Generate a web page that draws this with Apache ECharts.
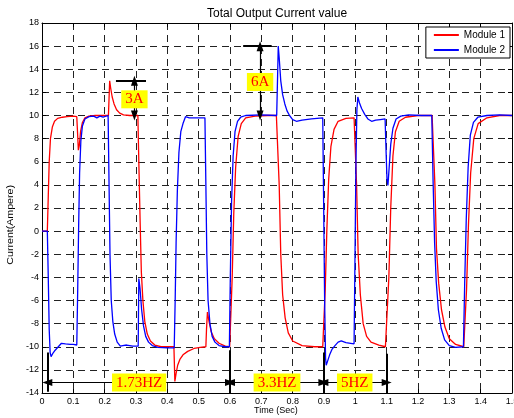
<!DOCTYPE html>
<html>
<head>
<meta charset="utf-8">
<script src="https://cdn.jsdelivr.net/npm/echarts@6/dist/echarts.min.js"></script>
<style>html,body{margin:0;padding:0;background:#fff}#c{width:514px;height:418px}</style>
</head>
<body>
<div id="c"></div>
<script>
// ---- data ----
const titleText = 'Total Output Current value';
const xAxisTitle = 'Time (Sec)';
const yAxisTitle = 'Current(Ampere)';
const xTicks = [0,0.1,0.2,0.3,0.4,0.5,0.6,0.7,0.8,0.9,1,1.1,1.2,1.3,1.4,1.5];
const yTicks = [-14,-12,-10,-8,-6,-4,-2,0,2,4,6,8,10,12,14,16,18];

const module1Time = [0,0.017,0.020,0.023,0.027,0.033,0.040,0.050,0.065,0.080,0.100,0.111,0.114,0.116,0.119,0.123,0.129,0.137,0.150,0.170,0.190,0.212,0.214,0.216,0.219,0.224,0.230,0.238,0.248,0.260,0.280,0.306,0.309,0.313,0.317,0.322,0.328,0.336,0.346,0.360,0.380,0.400,0.421,0.424,0.428,0.433,0.440,0.450,0.465,0.485,0.505,0.523,0.525,0.528,0.533,0.540,0.550,0.565,0.585,0.599,0.603,0.607,0.612,0.618,0.626,0.636,0.650,0.680,0.720,0.748,0.752,0.757,0.762,0.768,0.776,0.786,0.800,0.830,0.870,0.896,0.900,0.904,0.909,0.915,0.922,0.932,0.945,0.970,0.996,1.000,1.004,1.009,1.016,1.025,1.036,1.050,1.075,1.096,1.101,1.107,1.113,1.120,1.128,1.140,1.160,1.200,1.245,1.249,1.254,1.259,1.266,1.275,1.286,1.300,1.320,1.346,1.350,1.355,1.361,1.368,1.378,1.392,1.420,1.460,1.500];
const module1Current = [0,0,3,6,8,9.0,9.5,9.75,9.85,9.9,9.95,9.9,8.2,7.0,7.4,8.6,9.4,9.8,9.95,10,10,10,11.5,13.0,12.4,11.6,11.0,10.5,10.2,10.05,10,10,6,1,-3.5,-6,-7.8,-8.9,-9.5,-9.85,-10,-10,-10,-13,-12.3,-11.6,-11.1,-10.7,-10.4,-10.15,-10.05,-10,-8.5,-7.0,-7.8,-8.7,-9.3,-9.7,-9.95,-10,-10,-4,1.5,5.5,8.2,9.3,9.8,9.95,10,10,10,4,-2,-5.5,-7.5,-8.8,-9.5,-9.9,-10,-10,-10,-5,0,4.5,7.3,8.8,9.5,9.75,9.8,9.85,4,-2,-5.5,-8.0,-9.1,-9.6,-9.85,-10,-10,-4,2,6.5,8.6,9.5,9.85,10,10,10,4,-1.5,-4.5,-6.8,-8.3,-9.3,-9.8,-10,-10,-5,0.5,5,8,9.3,9.8,10,10,10];

const module2Time = [0,0.017,0.020,0.023,0.026,0.029,0.034,0.042,0.052,0.062,0.068,0.075,0.090,0.100,0.111,0.114,0.117,0.120,0.124,0.129,0.137,0.150,0.165,0.175,0.185,0.195,0.211,0.214,0.217,0.221,0.226,0.232,0.240,0.250,0.258,0.270,0.290,0.307,0.309,0.313,0.318,0.324,0.331,0.340,0.352,0.370,0.400,0.422,0.425,0.428,0.432,0.437,0.443,0.450,0.458,0.463,0.470,0.490,0.520,0.523,0.526,0.530,0.536,0.543,0.552,0.565,0.585,0.598,0.601,0.605,0.610,0.616,0.624,0.634,0.650,0.700,0.749,0.752,0.754,0.757,0.762,0.768,0.775,0.782,0.790,0.800,0.812,0.830,0.860,0.896,0.899,0.902,0.905,0.907,0.912,0.918,0.926,0.935,0.945,0.955,0.970,0.985,0.996,0.999,1.002,1.005,1.008,1.013,1.020,1.030,1.040,1.052,1.065,1.080,1.095,1.098,1.101,1.104,1.108,1.113,1.120,1.130,1.145,1.170,1.210,1.244,1.248,1.253,1.258,1.265,1.274,1.285,1.300,1.320,1.345,1.349,1.354,1.360,1.367,1.377,1.391,1.420,1.460,1.500];
const module2Current = [0,0,-4,-8.5,-10.5,-10.85,-10.6,-10.3,-10.0,-9.7,-9.6,-9.75,-9.8,-9.8,-9.85,-5,0.5,5,7.8,9.1,9.7,9.9,9.95,9.8,9.95,9.85,10,4,-2,-6,-7.8,-8.9,-9.6,-9.95,-9.9,-9.85,-9.95,-9.95,-4.1,-5.0,-6.8,-8.2,-9.1,-9.6,-9.9,-10.05,-10.1,-10.1,-6,-1,3.5,6.8,8.6,9.3,9.9,10.05,9.8,9.8,9.8,4,-2,-6,-8,-9.1,-9.6,-9.9,-10,-10,-4,2.5,6.5,8.6,9.5,9.85,10,10.05,10,13.5,16,15,13,11.8,11.0,10.4,10.0,9.65,9.5,9.6,9.7,9.8,2,-6,-11,-11.6,-11.2,-10.7,-10.2,-9.9,-9.6,-9.5,-9.65,-9.7,-9.75,-2,6,10.5,11.6,11.1,10.6,10.1,9.7,9.5,9.6,9.65,9.7,7,4.5,3.95,5.5,7.5,8.9,9.7,9.95,10.05,10,10,4.5,-1,-4.3,-6.8,-8.4,-9.4,-9.9,-10.05,-10,-4.5,1,5.5,8.3,9.4,9.85,10,10.05,10];

// annotations (data coordinates)
const capLines = [[[0.236,13],[0.332,13]],[[0.642,16],[0.733,16]]];
const ampArrows = [[[0.295,13],[0.295,10]],[[0.696,16],[0.696,10]]];
const periodBars = [[[0.017,-10.5],[0.017,-13.9]],[[0.6,-10.3],[0.6,-14]],[[0.898,-10.5],[0.898,-14]],[[1.1,-10.6],[1.1,-14]]];
const periodArrows = [[[0.017,-13.1],[0.6,-13.1]],[[0.6,-13.1],[0.898,-13.1]],[[0.898,-13.1],[1.1,-13.1]]];
const noteTexts = ['3A','6A','1.73HZ','3.3HZ','5HZ'];
const notePos = [[0.295,11.4],[0.696,12.9],[0.31,-13.1],[0.75,-13.1],[0.998,-13.1]];

const s1 = module1Time.map((t,i)=>[t,module1Current[i]]);
const s2 = module2Time.map((t,i)=>[t,module2Current[i]]);

const black = '#000';
function seg(p, withArrow, width){
  const sym = withArrow ? 'triangle' : 'none';
  return [
    {coord:p[0], symbol:sym, symbolSize:[7,10], lineStyle:{color:black,width:width,type:'solid'}},
    {coord:p[1], symbol:sym, symbolSize:[7,10]}
  ];
}
const markLines = []
  .concat(capLines.map(p=>seg(p,false,2)))
  .concat(ampArrows.map(p=>seg(p,true,1.2)))
  .concat(periodBars.map(p=>seg(p,false,2)))
  .concat(periodArrows.map(p=>seg(p,true,1.2)));

const markPoints = noteTexts.map((txt,i)=>({
  coord: notePos[i], symbol:'rect', symbolSize:1,
  itemStyle:{color:'rgba(0,0,0,0)'},
  label:{show:true, position:'inside', formatter:txt, color:'#ff0000',
    fontFamily:'Liberation Serif', fontSize:15, lineHeight:16,
    backgroundColor:'#ffff00', padding:[1,4,1,4]}
}));

const fontSans = 'Liberation Sans';
const axisBase = {
  type:'value',
  axisLine:{show:true, onZero:false, lineStyle:{color:black,width:1}},
  axisTick:{show:true, inside:true, length:4, lineStyle:{color:black}},
};
const gridLeft = 42, gridRight = 2, gridTop = 23, gridBottom = 25;

const chart = echarts.init(document.getElementById('c'), null, {renderer:'canvas'});
chart.setOption({
  animation:false,
  backgroundColor:'#fff',
  title:{text:titleText, left:202, top:3,
    textStyle:{fontFamily:fontSans, fontSize:12, fontWeight:'normal', color:black}},
  legend:{
    data:['Module 1','Module 2'], orient:'vertical', right:4, top:27,
    backgroundColor:'#fff', borderColor:black, borderWidth:1, borderRadius:0,
    padding:[3,5,3,8], itemGap:5, itemWidth:25, itemHeight:2, icon:'rect',
    textStyle:{fontFamily:fontSans, fontSize:10, color:black}
  },
  graphic:[
    {type:'text', left:6, top:185, rotation:Math.PI/2, scaleX:1.18,
     style:{text:yAxisTitle, fontFamily:fontSans, fontSize:9, fill:black}},
    {type:'text', left:254, top:406,
     style:{text:xAxisTitle, fontFamily:fontSans, fontSize:9, fill:black}}
  ],
  grid:{left:gridLeft, right:gridRight, top:gridTop, bottom:gridBottom, containLabel:false, outerBoundsMode:'none'},
  xAxis:[
    Object.assign({}, axisBase, {
      min:0, max:1.5, interval:0.1, position:'bottom',
      axisLabel:{fontFamily:fontSans, fontSize:9, color:black, margin:4,
        formatter:v=>String(Math.round(v*10)/10)},
      splitLine:{show:true, lineStyle:{color:'#222', type:[7,5], width:1}}
    }),
    Object.assign({}, axisBase, {
      min:0, max:1.5, interval:0.1, position:'top',
      axisLabel:{show:false}, splitLine:{show:false}
    })
  ],
  yAxis:[
    Object.assign({}, axisBase, {
      min:-14, max:18, interval:2, position:'left',
      axisLabel:{fontFamily:fontSans, fontSize:9, color:black, margin:3},
      splitLine:{show:true, lineStyle:{color:'#222', type:[7,5], width:1}}
    }),
    Object.assign({}, axisBase, {
      min:-14, max:18, interval:2, position:'right',
      axisLabel:{show:false}, splitLine:{show:false}
    })
  ],
  series:[
    {name:'Module 1', type:'line', data:s1, showSymbol:false, symbol:'none',
     lineStyle:{color:'#ff0000', width:1.3}, itemStyle:{color:'#ff0000'}, z:2},
    {name:'Module 2', type:'line', data:s2, showSymbol:false, symbol:'none',
     lineStyle:{color:'#0000ff', width:1.3}, itemStyle:{color:'#0000ff'}, z:3,
     markLine:{silent:true, animation:false, label:{show:false}, emphasis:{disabled:true}, data:markLines},
     markPoint:{silent:true, animation:false, data:markPoints}
    }
  ]
});
</script>
</body>
</html>
